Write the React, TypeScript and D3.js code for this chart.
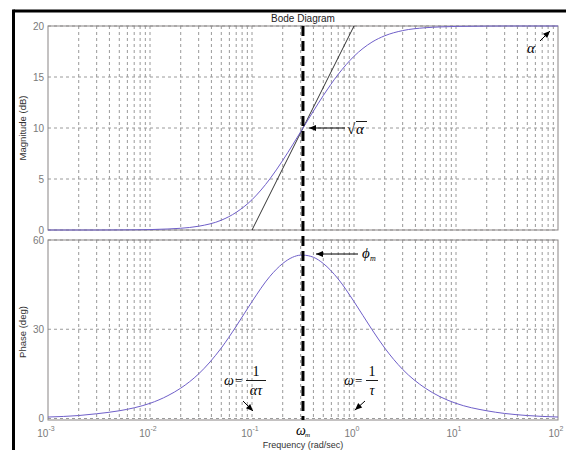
import React from "react";
import * as d3 from "d3";

const freqs = [0.001, 0.002, 0.003, 0.005, 0.007, 0.01, 0.015, 0.02, 0.03, 0.05, 0.07, 0.1, 0.15, 0.2, 0.25, 0.3, 0.316, 0.4, 0.5, 0.7, 1, 1.5, 2, 3, 5, 7, 10, 20, 30, 50, 100];
const magnitudeDb = [0, 0, 0, 0.01, 0.02, 0.04, 0.1, 0.17, 0.37, 0.96, 1.73, 2.97, 5.02, 6.82, 8.34, 9.63, 10.0, 11.66, 13.18, 15.26, 17.03, 18.42, 19.04, 19.55, 19.83, 19.91, 19.96, 19.99, 20, 20, 20];
const phaseDeg = [0.5, 1.0, 1.6, 2.6, 3.6, 5.1, 7.7, 10.2, 15.0, 23.7, 31.0, 39.3, 47.8, 52.1, 54.2, 54.9, 54.9, 54.2, 52.1, 46.9, 39.3, 29.9, 23.7, 16.5, 10.2, 7.3, 5.1, 2.6, 1.7, 1.0, 0.5];
const asymptoteFreq = [0.1, 1];
const asymptoteDb = [0, 20];
const omegaM = 0.316;
const magTicks = [0, 5, 10, 15, 20];
const phaseTicks = [0, 30, 60];
const decadeExps = [-3, -2, -1, 0, 1, 2];

const W = 566, H = 450;
const X0 = 48, X1 = 558;
const MAG_TOP = 26, MAG_BOT = 230;
const PH_TOP = 240, PH_BOT = 420;

const GRID = "#9a9a9a";
const FRAME = "#8a8585";
const LABEL = "#7a7a7a";
const CURVE = "#6f5fc9";
const SANS = "'Liberation Sans', Arial, sans-serif";
const SERIF = "'Liberation Serif', 'DejaVu Serif', serif";

export default function App() {
  const x = d3.scaleLog().domain([1e-3, 1e2]).range([X0, X1]);
  const yMag = d3.scaleLinear().domain([0, 20]).range([MAG_BOT, MAG_TOP]);
  const yPh = d3.scaleLinear().domain([-0.5, 60]).range([PH_BOT, PH_TOP]);

  const minorFreqs: number[] = [];
  for (let e = -3; e < 2; e++) {
    for (let m = 1; m <= 9; m++) {
      if (m === 1 && e === -3) continue;
      minorFreqs.push(m * Math.pow(10, e));
    }
  }

  const magLine = d3
    .line<number>()
    .x((_, i) => x(freqs[i]))
    .y((d) => yMag(d))
    .curve(d3.curveMonotoneX);
  const phLine = d3
    .line<number>()
    .x((_, i) => x(freqs[i]))
    .y((d) => yPh(d))
    .curve(d3.curveMonotoneX);
  const asymLine = d3
    .line<number>()
    .x((_, i) => x(asymptoteFreq[i]))
    .y((d) => yMag(d));

  const xm = x(omegaM);

  const arrowHead = (x1: number, y1: number, x2: number, y2: number, len = 7, wid = 3) => {
    const a = Math.atan2(y2 - y1, x2 - x1);
    const bx = x2 - len * Math.cos(a), by = y2 - len * Math.sin(a);
    const px = -Math.sin(a) * wid, py = Math.cos(a) * wid;
    return `M${x2},${y2}L${bx + px},${by + py}L${bx - px},${by - py}Z`;
  };
  const Arrow = ({ x1, y1, x2, y2 }: { x1: number; y1: number; x2: number; y2: number }) => (
    <g>
      <line x1={x1} y1={y1} x2={x2} y2={y2} stroke="#000" strokeWidth={1} />
      <path d={arrowHead(x1, y1, x2, y2)} fill="#000" />
    </g>
  );

  const panelGrid = (top: number, bot: number, yTicks: number[], ys: (v: number) => number) => (
    <g>
      {minorFreqs.map((f, i) => (
        <line key={"v" + i} x1={x(f)} x2={x(f)} y1={top} y2={bot} stroke={GRID} strokeWidth={1} strokeDasharray="3,3" />
      ))}
      {yTicks.map((t, i) => (
        <line key={"h" + i} x1={X0} x2={X1} y1={ys(t)} y2={ys(t)} stroke={GRID} strokeWidth={1} strokeDasharray="3,3" />
      ))}
      <rect x={X0} y={top} width={X1 - X0} height={bot - top} fill="none" stroke={FRAME} strokeWidth={1} />
      {yTicks.map((t, i) => (
        <text key={"t" + i} x={X0 - 4} y={ys(t) + 3.5} textAnchor="end" fontSize={10} fill={LABEL} fontFamily={SANS}>
          {t}
        </text>
      ))}
    </g>
  );

  return (
    <svg width={W} height={H} style={{ position: "absolute", left: 0, top: 0, background: "#fff" }}>
      <rect x={0} y={0} width={W} height={H} fill="#fff" />
      {/* outer black border */}
      <line x1={13.5} y1={11} x2={W} y2={11} stroke="#000" strokeWidth={3} />
      <line x1={13.5} y1={9.5} x2={13.5} y2={H} stroke="#000" strokeWidth={3} />

      <text x={(X0 + X1) / 2} y={22} textAnchor="middle" fontSize={10} fill="#222" fontFamily={SANS}>
        Bode Diagram
      </text>

      {panelGrid(MAG_TOP, MAG_BOT, magTicks, yMag)}
      {panelGrid(PH_TOP, PH_BOT, phaseTicks, yPh)}

      <text transform={`translate(26,${(MAG_TOP + MAG_BOT) / 2}) rotate(-90)`} textAnchor="middle" fontSize={9.5} fill="#333" fontFamily={SANS}>
        Magnitude (dB)
      </text>
      <text transform={`translate(26,${(PH_TOP + PH_BOT) / 2 + 2}) rotate(-90)`} textAnchor="middle" fontSize={9.5} fill="#333" fontFamily={SANS}>
        Phase (deg)
      </text>

      {/* x tick labels */}
      {decadeExps.map((e) => (
        <text key={e} x={x(Math.pow(10, e)) - 2} y={437} textAnchor="middle" fontSize={10} fill={LABEL} fontFamily={SANS}>
          10
          <tspan fontSize={7} dy={-6}>
            {e}
          </tspan>
        </text>
      ))}
      <text x={(X0 + X1) / 2} y={448} textAnchor="middle" fontSize={9} fill="#333" fontFamily={SANS}>
        Frequency  (rad/sec)
      </text>

      {/* curves */}
      <path d={asymLine(asymptoteDb) || ""} fill="none" stroke="#000" strokeWidth={0.8} />
      <path d={magLine(magnitudeDb) || ""} fill="none" stroke={CURVE} strokeWidth={1} />
      <path d={phLine(phaseDeg) || ""} fill="none" stroke={CURVE} strokeWidth={1} />

      {/* omega_m dashed line */}
      <line x1={xm} x2={xm} y1={MAG_TOP} y2={PH_BOT} stroke="#000" strokeWidth={3} strokeDasharray="10,5" />

      {/* annotations */}
      <Arrow x1={540} y1={41} x2={550} y2={31} />
      <text x={527} y={53} fontSize={15} fontStyle="italic" fontFamily={SERIF}>α</text>

      <Arrow x1={345} y1={128} x2={309} y2={128} />
      <text x={347} y={134} fontSize={15} fontFamily={SERIF}>√</text>
      <line x1={356} y1={121.5} x2={367} y2={121.5} stroke="#000" strokeWidth={0.9} />
      <text x={356} y={134} fontSize={15} fontStyle="italic" fontFamily={SERIF}>α</text>

      <Arrow x1={358} y1={254} x2={316} y2={254} />
      <text x={362} y={258} fontSize={15} fontStyle="italic" fontFamily={SERIF}>ϕ</text>
      <text x={370} y={261} fontSize={8} fontStyle="italic" fontFamily={SERIF}>m</text>

      {/* omega = 1/(alpha tau) */}
      <text x={224} y={385} fontSize={14} fontStyle="italic" fontFamily={SERIF}>ω</text>
      <text x={235} y={385} fontSize={13} fontFamily={SERIF}>=</text>
      <text x={256} y={376} fontSize={14} textAnchor="middle" fontFamily={SERIF}>1</text>
      <line x1={246} x2={266} y1={380.5} y2={380.5} stroke="#000" strokeWidth={0.9} />
      <text x={256} y={395} fontSize={14} textAnchor="middle" fontStyle="italic" fontFamily={SERIF}>ατ</text>
      <Arrow x1={243} y1={401} x2={253} y2={411} />

      {/* omega = 1/tau */}
      <text x={344} y={385} fontSize={14} fontStyle="italic" fontFamily={SERIF}>ω</text>
      <text x={355} y={385} fontSize={13} fontFamily={SERIF}>=</text>
      <text x={372} y={376} fontSize={14} textAnchor="middle" fontFamily={SERIF}>1</text>
      <line x1={366} x2={378} y1={380.5} y2={380.5} stroke="#000" strokeWidth={0.9} />
      <text x={372} y={395} fontSize={14} textAnchor="middle" fontStyle="italic" fontFamily={SERIF}>τ</text>
      <Arrow x1={365} y1={401} x2={355} y2={410} />

      {/* omega_m label */}
      <text x={xm - 7} y={435} fontSize={14} fontStyle="italic" fontFamily={SERIF}>ω</text>
      <text x={xm + 2} y={437} fontSize={7} fontStyle="italic" fontFamily={SERIF}>m</text>
    </svg>
  );
}
